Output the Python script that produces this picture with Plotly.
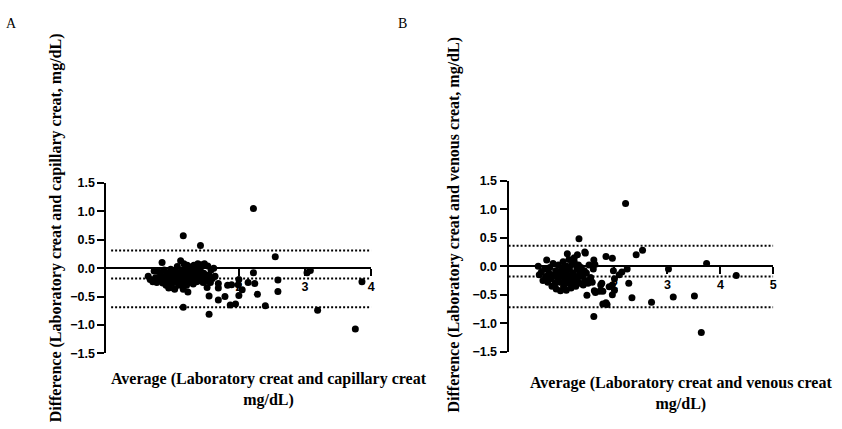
import plotly.graph_objects as go

W, H = 842, 429

# ---------------- Panel A data (capillary) ----------------
a_avg = [0.63, 0.66, 0.70, 0.72, 0.74, 0.76, 0.78, 0.80, 0.82, 0.84, 0.85, 0.87, 0.88, 0.90,
         0.91, 0.93, 0.94, 0.96, 0.97, 0.99, 1.00, 1.02, 1.03, 1.04, 1.05, 1.07, 1.08, 1.09,
         1.10, 1.11, 1.12, 1.13, 1.14, 1.15, 1.16, 1.17, 1.18, 1.19, 1.20, 1.21, 1.22, 1.23,
         1.25, 1.26, 1.27, 1.29, 1.30, 1.31, 1.32, 1.34, 1.35, 1.36, 1.38, 1.39, 1.40, 1.42,
         1.43, 1.44, 1.46, 1.47, 1.48, 1.50, 1.52, 1.53, 1.55, 1.57, 1.58, 1.60, 1.62, 1.64,
         1.16, 1.42, 2.22, 2.55, 1.16, 1.23, 1.55, 1.55, 1.52, 1.69, 1.69, 1.69, 1.79, 1.83,
         1.89, 1.87, 1.95, 2.00, 1.99, 2.00, 2.05, 2.14, 2.22, 2.24, 2.28, 2.40, 2.59, 2.59,
         3.03, 3.08, 3.19, 3.76, 3.86]
a_diff = [-0.14, -0.20, -0.24, -0.05, -0.17, -0.25, -0.06, -0.20, -0.12, 0.10, -0.26, -0.03,
          -0.18, -0.30, -0.09, -0.22, -0.35, -0.14, -0.02, -0.27, -0.10, -0.19, -0.37, -0.05,
          -0.24, 0.03, -0.14, -0.30, -0.08, -0.20, 0.13, -0.27, -0.03, -0.16, -0.37, 0.08,
          -0.11, -0.22, -0.01, -0.30, 0.05, -0.15, -0.24, -0.06, 0.02, -0.19, -0.10, -0.28,
          0.05, -0.16, -0.03, -0.24, 0.08, -0.12, -0.22, -0.05, 0.06, -0.18, -0.25, -0.09,
          0.08, -0.15, -0.22, 0.04, -0.12, -0.25, -0.03, -0.18, 0.00, -0.14,
          0.57, 0.40, 1.05, 0.20, -0.69, -0.42, -0.81, -0.49, -0.34, -0.27, -0.35, -0.56,
          -0.50, -0.30, -0.29, -0.65, -0.63, -0.20, -0.29, -0.48, -0.38, -0.25, -0.08, -0.27,
          -0.46, -0.66, -0.21, -0.41, -0.08, -0.04, -0.74, -1.07, -0.24]
a_upper, a_mean, a_lower = 0.31, -0.18, -0.69
a_line_x = [0.07, 4.0]

# ---------------- Panel B data (venous) ----------------
b_avg = [0.56, 0.58, 0.62, 0.65, 0.68, 0.70, 0.72, 0.74, 0.76, 0.78, 0.80, 0.82, 0.84, 0.86,
         0.88, 0.89, 0.90, 0.92, 0.94, 0.95, 0.97, 0.98, 1.00, 1.01, 1.03, 1.04, 1.06, 1.07,
         1.09, 1.10, 1.11, 1.12, 1.14, 1.15, 1.17, 1.18, 1.20, 1.21, 1.23, 1.24, 1.26, 1.27,
         1.29, 1.30, 1.32, 1.34, 1.35, 1.37, 1.39, 1.41, 1.43, 1.45, 1.47, 1.50, 1.52, 1.55,
         1.58, 1.60,
         1.11, 1.24, 1.30, 1.44, 1.45, 1.33, 1.61, 1.63, 1.84, 1.96, 2.21, 2.41, 2.53, 3.74,
         3.02, 4.30, 2.24, 2.14, 2.09, 2.27, 2.33, 2.70, 3.11, 3.51, 3.64, 1.61, 1.78, 1.84,
         1.86, 1.96, 2.00, 1.90, 1.96, 2.00, 1.98, 1.48, 1.62, 1.72, 1.78, 1.74, 1.76, 1.64,
         1.55]
b_diff = [0.00, -0.15, -0.10, -0.25, -0.05, -0.18, 0.11, -0.28, -0.12, -0.02, -0.22, -0.35,
          0.05, -0.15, -0.30, -0.08, -0.40, -0.20, 0.02, -0.12, -0.28, -0.43, -0.05, -0.18,
          0.08, -0.35, -0.10, -0.25, -0.42, 0.00, -0.15, -0.30, 0.12, -0.05, -0.22, -0.38,
          0.03, -0.12, -0.28, 0.08, -0.18, -0.35, -0.05, -0.22, 0.02, -0.12, -0.30, -0.02,
          -0.18, -0.33, -0.08, -0.25, -0.12, -0.30, 0.02, -0.20, -0.28, -0.05,
          0.22, 0.15, 0.20, 0.25, 0.23, 0.48, 0.11, 0.03, 0.17, 0.14, 1.10, 0.20, 0.28, 0.05,
          -0.05, -0.16, -0.05, -0.10, -0.15, -0.30, -0.55, -0.63, -0.54, -0.52, -1.16, -0.88,
          -0.66, -0.64, -0.67, -0.50, -0.42, -0.36, -0.33, -0.22, -0.08, -0.51, -0.43, -0.44,
          -0.44, -0.33, -0.30, -0.46, -0.20]
b_upper, b_mean, b_lower = 0.36, -0.18, -0.72
b_line_x = [0.0, 5.0]

a_xticks = [1, 2, 3, 4]
b_xticks = [1, 2, 3, 4, 5]
y_ticks = [-1.5, -1.0, -0.5, 0.0, 0.5, 1.0, 1.5]

# ---------------- layout geometry (pixels) ----------------
def px_x(p):
    return p / W

def px_y(p):
    return (H - p) / H

A_x0, A_x1, A_ytop, A_ybot = 107, 373, 182, 358
B_x0, B_x1, B_ytop, B_ybot = 511, 777, 179.5, 356.5

fig = go.Figure()

dot = "2px,2px"
for xs, ys, lines, xa, ya, lx in [
    (a_avg, a_diff, (a_upper, a_mean, a_lower), "x", "y", a_line_x),
    (b_avg, b_diff, (b_upper, b_mean, b_lower), "x2", "y2", b_line_x),
]:
    for v in lines:
        fig.add_trace(go.Scatter(x=lx, y=[v, v], mode="lines",
                                 line=dict(color="black", width=2, dash=dot),
                                 xaxis=xa, yaxis=ya, showlegend=False, hoverinfo="skip"))
    fig.add_trace(go.Scatter(x=xs, y=ys, mode="markers",
                             marker=dict(color="black", size=7, line=dict(width=0)),
                             xaxis=xa, yaxis=ya, showlegend=False, cliponaxis=False))

tickfont = dict(family="Liberation Sans, Arial", size=12.5, color="black", weight="bold")
common_ax = dict(showgrid=False, zeroline=False, showline=True, linecolor="black",
                 linewidth=2, ticks="outside", ticklen=7, tickwidth=2, tickcolor="black",
                 tickfont=tickfont, layer="below traces")

fig.update_layout(
    width=W, height=H, margin=dict(l=0, r=0, t=0, b=0),
    paper_bgcolor="white", plot_bgcolor="rgba(0,0,0,0)",
    xaxis=dict(domain=[px_x(A_x0), px_x(A_x1)], range=[0, 4], anchor="free",
               position=(px_y(A_ytop) + px_y(A_ybot)) / 2, tickvals=a_xticks, **common_ax),
    yaxis=dict(domain=[px_y(A_ybot), px_y(A_ytop)], range=[-1.5, 1.5], anchor="x",
               tickvals=y_ticks, tickformat=".1f", **common_ax),
    xaxis2=dict(domain=[px_x(B_x0), px_x(B_x1)], range=[0, 5], anchor="free",
                position=(px_y(B_ytop) + px_y(B_ybot)) / 2, tickvals=b_xticks, **common_ax),
    yaxis2=dict(domain=[px_y(B_ybot), px_y(B_ytop)], range=[-1.5, 1.5], anchor="x2",
                tickvals=y_ticks, tickformat=".1f", **common_ax),
)

serif = dict(family="Liberation Serif, Times New Roman", size=16, color="black")
serif_b = dict(serif, weight="bold")

ann = [
    dict(text="A", x=px_x(12), y=px_y(17), font=dict(serif, size=14)),
    dict(text="B", x=px_x(404), y=px_y(17), font=dict(serif, size=14)),
    dict(text="Difference (Laboratory creat and capillary creat, mg/dL)", x=px_x(56), y=px_y(228),
         textangle=-90, font=serif_b),
    dict(text="Difference (Laboratory creat and venous creat, mg/dL)", x=px_x(456), y=px_y(225),
         textangle=-90, font=serif_b),
    dict(text="Average (Laboratory creat and capillary creat<br>mg/dL)", x=px_x(270), y=px_y(395),
         font=serif_b),
    dict(text="Average (Laboratory creat and venous creat<br>mg/dL)", x=px_x(684), y=px_y(400),
         font=serif_b),
]
for a in ann:
    fig.add_annotation(xref="paper", yref="paper", showarrow=False,
                       xanchor="center", yanchor="middle", **a)

fig.write_html("out.html")
